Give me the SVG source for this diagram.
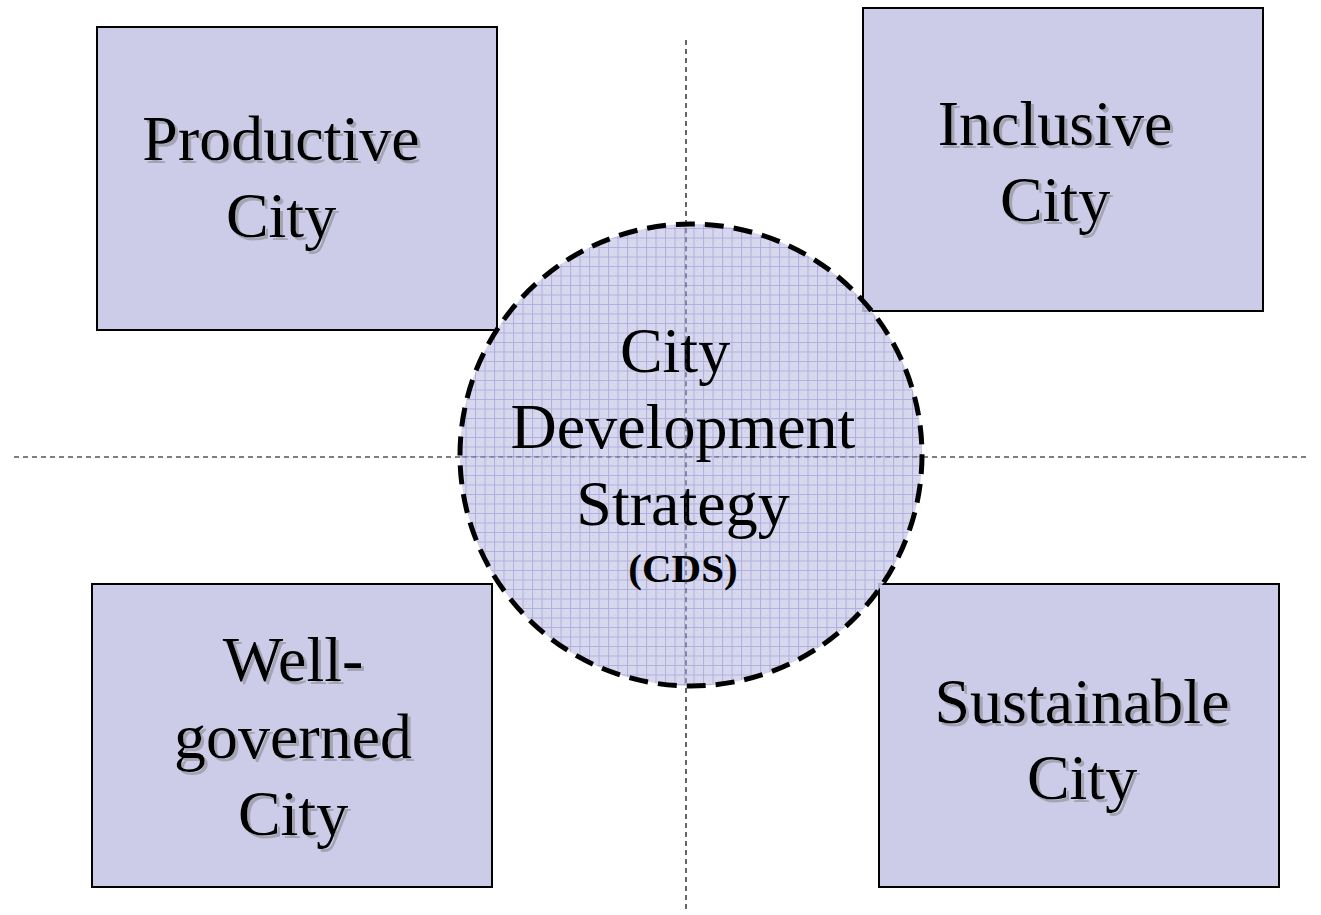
<svg xmlns="http://www.w3.org/2000/svg" width="1321" height="915" viewBox="0 0 1321 915">
<defs>
<pattern id="grid" width="9.5" height="9.5" patternUnits="userSpaceOnUse">
<rect width="9.5" height="9.5" fill="#D0D0EA"/>
<rect width="1" height="1" x="3" y="3" fill="#C0C0E2"/>
<rect width="1" height="1" x="6" y="6" fill="#C0C0E2"/>
<path d="M0 0.5H9.5M0.5 0V9.5" stroke="#A2A2DA" stroke-width="1.1"/>
</pattern>
<filter id="sh" x="-10%" y="-10%" width="120%" height="130%">
<feOffset in="SourceAlpha" dx="3" dy="3" result="o"/>
<feFlood flood-color="#a4a4b4"/>
<feComposite in2="o" operator="in" result="s"/>
<feMerge><feMergeNode in="s"/><feMergeNode in="SourceGraphic"/></feMerge>
</filter>
</defs>
<style>
.box{fill:#CCCCE8;stroke:#000;stroke-width:2}
.t{font-family:"Liberation Serif","Times New Roman",serif;font-size:64px;fill:#000;text-anchor:middle}
.b{font-family:"Liberation Serif","Times New Roman",serif;font-size:41px;font-weight:bold;fill:#000;text-anchor:middle}
.axis{stroke:#000;stroke-width:1.2;stroke-dasharray:5 4;fill:none}
</style>
<g id="productive">
<rect class="box" x="97" y="27" width="400" height="303"/>
<g filter="url(#sh)"><text class="t" x="281" y="160">Productive</text><text class="t" x="281" y="237">City</text></g>
</g>
<g id="inclusive">
<rect class="box" x="863" y="8" width="400" height="303"/>
<g filter="url(#sh)"><text class="t" x="1055" y="145">Inclusive</text><text class="t" x="1055" y="221">City</text></g>
</g>
<g id="wellgoverned">
<rect class="box" x="92" y="584" width="400" height="303"/>
<g filter="url(#sh)"><text class="t" x="293" y="681">Well-</text><text class="t" x="293" y="758">governed</text><text class="t" x="293" y="835">City</text></g>
</g>
<g id="sustainable">
<rect class="box" x="879" y="584" width="400" height="303"/>
<g filter="url(#sh)"><text class="t" x="1082" y="723">Sustainable</text><text class="t" x="1082" y="799">City</text></g>
</g>
<g id="connectors">
<line class="axis" x1="14" y1="457" x2="1310" y2="457"/>
<line class="axis" x1="686" y1="40" x2="686" y2="912"/>
</g>
<g id="cds">
<circle cx="691" cy="455" r="231" fill="url(#grid)" fill-opacity="0.85" stroke="#000" stroke-width="5" stroke-dasharray="19 10"/>
<text class="t" x="675" y="372">City</text>
<text class="t" x="683" y="448">Development</text>
<text class="t" x="683" y="525">Strategy</text>
<text class="b" x="683" y="582">(CDS)</text>
<line x1="686" y1="228" x2="686" y2="685" stroke="#404060" stroke-width="1.2" stroke-dasharray="5 4" opacity="0.7"/>
<line x1="462" y1="457" x2="920" y2="457" stroke="#404060" stroke-width="1.2" stroke-dasharray="5 4" opacity="0.7"/>
</g>
</svg>
